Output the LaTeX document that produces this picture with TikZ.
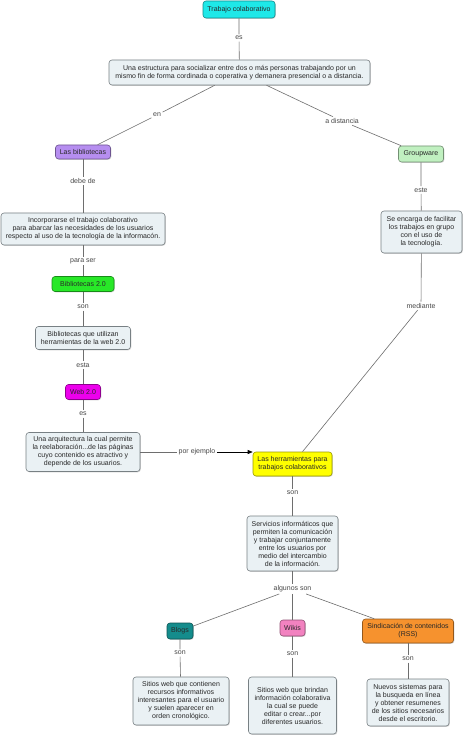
\documentclass[tikz,border=0pt]{standalone}
\usepackage{fontspec}
\setmainfont{Liberation Sans}
\usetikzlibrary{shadows,arrows.meta}
\definecolor{boxfill}{RGB}{234,241,244}
\definecolor{boxline}{RGB}{120,128,132}
\definecolor{linecol}{RGB}{110,110,110}
\definecolor{cyanc}{RGB}{30,232,232}
\definecolor{purplec}{RGB}{182,142,240}
\definecolor{lgreenc}{RGB}{192,240,192}
\definecolor{greenc}{RGB}{40,232,40}
\definecolor{magentac}{RGB}{236,0,236}
\definecolor{yellowc}{RGB}{255,255,0}
\definecolor{tealc}{RGB}{20,140,140}
\definecolor{pinkc}{RGB}{242,130,192}
\definecolor{orangec}{RGB}{246,146,46}
\definecolor{txt}{RGB}{40,40,40}
\tikzset{
  base/.style={rounded corners=3pt, align=center, inner sep=1.5pt,
    font=\fontsize{7}{8}\selectfont, text=txt, line width=0.6pt,
    drop shadow={shadow xshift=0.8pt, shadow yshift=-0.8pt, fill=black!35}},
  desc/.style={base, draw=boxline, fill=boxfill},
  concept/.style={base, draw=#1!60!black, fill=#1},
  lbl/.style={font=\fontsize{7}{8}\selectfont, text=txt!85, inner sep=1.5pt},
  conn/.style={draw=linecol, line width=0.6pt}
}
\begin{document}
\begin{tikzpicture}[x=1pt,y=-1pt]
\useasboundingbox[fill=white] (0,0) rectangle (463,735);
% concept nodes
\node[concept=cyanc, minimum width=72pt, minimum height=17pt] (tc) at (239,9.5) {Trabajo colaborativo};
\node[desc, minimum width=261pt, minimum height=25pt] (dsc) at (239.5,72.5) {Una estructura para socializar entre dos o más personas trabajando por un\\ mismo fin de forma cordinada o coperativa y demanera presencial o a distancia.};
\node[concept=purplec, minimum width=55pt, minimum height=14pt] (bib) at (83,152) {Las bibliotecas};
\node[concept=lgreenc, minimum width=45pt, minimum height=16pt] (gw) at (421,154) {Groupware};
\node[desc, minimum width=164pt, minimum height=32pt] (inc) at (83,229) {Incorporarse el trabajo colaborativo\\ para abarcar las necesidades de los usuarios\\ respecto al uso de la tecnología de la informacón.};
\node[desc, minimum width=81pt, minimum height=42pt] (enc) at (421.5,232) {Se encarga de facilitar\\ los trabajos en grupo\\ con el uso de\\ la tecnología.};
\node[concept=greenc, minimum width=62pt, minimum height=15pt] (b20) at (83,284) {Bibliotecas 2.0};
\node[desc, minimum width=95pt, minimum height=23pt] (butil) at (83,338) {Bibliotecas que utilizan\\ herramientas de la web 2.0};
\node[concept=magentac, minimum width=35pt, minimum height=15pt] (web) at (83,392) {Web 2.0};
\node[desc, minimum width=114pt, minimum height=39pt] (arq) at (83,452) {Una arquitectura la cual permite\\ la reelaboración...de las páginas\\ cuyo contenido es atractivo y\\ depende de los usuarios.};
\node[concept=yellowc, minimum width=79pt, minimum height=24pt] (herr) at (292.5,464) {Las herramientas para\\ trabajos colaborativos};
\node[desc, minimum width=91pt, minimum height=55pt] (serv) at (292.5,543.5) {Servicios informáticos que\\ permiten la comunicación\\ y trabajar conjuntamente\\ entre los usuarios por\\ medio del intercambio\\ de la información.};
\node[concept=tealc, minimum width=26pt, minimum height=16pt] (blogs) at (180,631) {Blogs};
\node[concept=pinkc, minimum width=25pt, minimum height=16pt] (wikis) at (292.5,628) {Wikis};
\node[concept=orangec, minimum width=91pt, minimum height=24pt] (rss) at (408,631) {Sindicación de contenidos\\ (RSS)};
\node[desc, minimum width=96pt, minimum height=48pt] (dblogs) at (181,701) {Sitios web que contienen\\ recursos informativos\\ interesantes para el usuario\\ y suelen aparecer en\\ orden cronológico.};
\node[desc, minimum width=88pt, minimum height=57pt] (dwikis) at (292.5,705.5) {Sitios web que brindan\\ información colaborativa\\ la cual se puede\\ editar o crear...por\\ diferentes usuarios.};
\node[desc, minimum width=82pt, minimum height=47pt] (drss) at (408,702.5) {Nuevos sistemas para\\ la busqueda en línea\\ y obtener resumenes\\ de los sitios necesarios\\ desde el escritorio.};
% labels
\node[lbl] (l1) at (239,38) {es};
\node[lbl] (l2) at (157,115) {en};
\node[lbl] (l3) at (342,121) {a distancia};
\node[lbl] (l4) at (83,181) {debe de};
\node[lbl] (l5) at (421,190) {este};
\node[lbl] (l6) at (83,261) {para ser};
\node[lbl] (l7) at (83,307) {son};
\node[lbl] (l8) at (83,365) {esta};
\node[lbl] (l9) at (83,414) {es};
\node[lbl] (l10) at (421,306) {mediante};
\node[lbl] (l11) at (197,452) {por ejemplo};
\node[lbl] (l12) at (292.5,493) {son};
\node[lbl] (l13) at (292.5,589) {algunos son};
\node[lbl] (l14) at (180,653) {son};
\node[lbl] (l15) at (292.5,654) {son};
\node[lbl] (l16) at (408,659) {son};
% connectors
\begin{scope}[on background layer/.try]
\draw[conn] (tc) -- (l1) -- (dsc);
\draw[conn] (dsc) -- (l2) -- (bib);
\draw[conn] (dsc) -- (l3) -- (gw);
\draw[conn] (bib) -- (l4) -- (inc);
\draw[conn] (gw) -- (l5) -- (enc);
\draw[conn] (inc) -- (l6) -- (b20);
\draw[conn] (b20) -- (l7) -- (butil);
\draw[conn] (butil) -- (l8) -- (web);
\draw[conn] (web) -- (l9) -- (arq);
\draw[conn] (enc) -- (l10) -- (herr);
\draw[conn] (arq) -- (l11);
\draw[conn, -{Triangle[length=5pt,width=4pt]}, draw=black] (l11) -- (l11 -| herr.west);
\draw[conn] (herr) -- (l12) -- (serv);
\draw[conn] (serv) -- (l13);
\draw[conn] (l13) -- (blogs);
\draw[conn] (l13) -- (wikis);
\draw[conn] (l13) -- (rss);
\draw[conn] (blogs) -- (l14) -- (dblogs);
\draw[conn] (wikis) -- (l15) -- (dwikis);
\draw[conn] (rss) -- (l16) -- (drss);
\end{scope}
\end{tikzpicture}
\end{document}
